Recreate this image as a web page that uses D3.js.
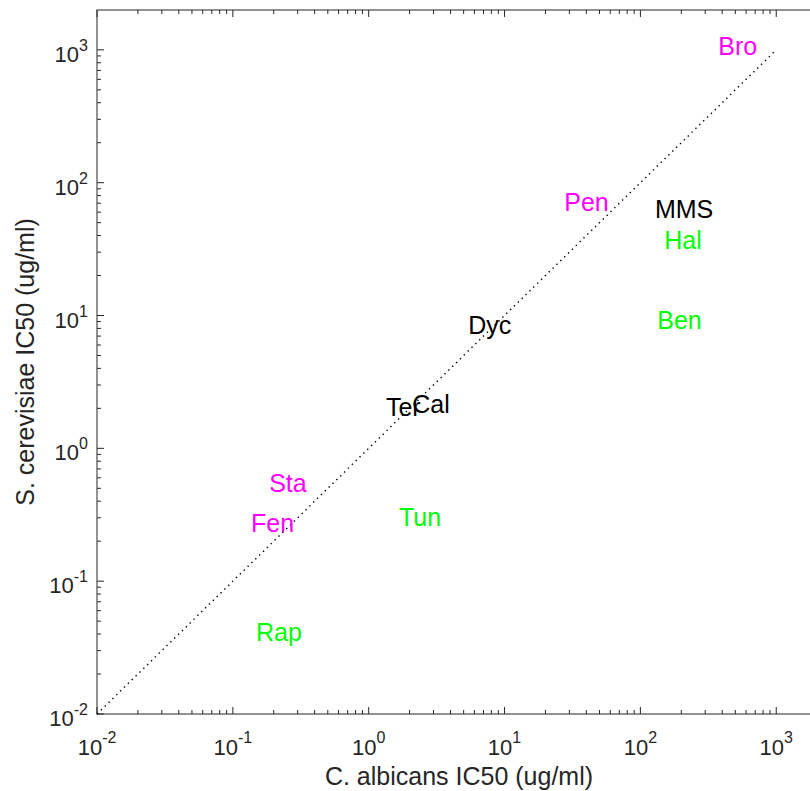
<!DOCTYPE html>
<html>
<head>
<meta charset="utf-8">
<script src="https://d3js.org/d3.v7.min.js"></script>
<style>
  body { margin: 0; background: white; }
  svg { font-family: 'Liberation Sans', Arial, Helvetica, sans-serif; }
</style>
</head>
<body>
<svg id="chart" width="810" height="791"></svg>
<script>
// compound names, IC50 in C. albicans (x) and S. cerevisiae (y), label colour
const names = ['Bro', 'Pen', 'MMS', 'Hal', 'Ben', 'Dyc', 'Ter', 'Cal', 'Sta', 'Fen', 'Tun', 'Rap'];
const albicans = [374, 27.5, 128, 150, 133, 5.4, 1.34, 2.09, 0.185, 0.136, 1.67, 0.148];
const cerevisiae = [1070, 71.6, 63.5, 37.1, 9.27, 8.5, 2.05, 2.16, 0.548, 0.274, 0.304, 0.0414];
const groups = ['magenta', 'magenta', 'black', 'green', 'green', 'black', 'black', 'black', 'magenta', 'magenta', 'green', 'green'];
const tickExps = [-2, -1, 0, 1, 2, 3];
const axisMax = Math.pow(10, 3.3);

const colorScale = d3.scaleOrdinal()
  .domain(['magenta', 'green', 'black'])
  .range(['#ff00ff', '#00ff00', '#000000']);

const svg = d3.select('#chart');
const mLeft = 97, mTop = 10, mRight = 817, mBottom = 714;

const x = d3.scaleLog().domain([0.01, axisMax]).range([mLeft, mRight]);
const y = d3.scaleLog().domain([0.01, axisMax]).range([mBottom, mTop]);

const axisColor = '#262626';

// minor + major ticks, drawn inward on all four sides (matlab box)
const majors = tickExps.map(e => Math.pow(10, e));
const minors = [];
tickExps.forEach(e => {
  for (let k = 2; k <= 9; k++) {
    const v = k * Math.pow(10, e);
    if (v <= axisMax) minors.push(v);
  }
});

const ticks = svg.append('g').attr('stroke', axisColor).attr('stroke-width', 1);
const tickLines = (vals, len) => {
  vals.forEach(v => {
    const px = x(v), py = y(v);
    ticks.append('line').attr('x1', px).attr('x2', px).attr('y1', mBottom).attr('y2', mBottom - len);
    ticks.append('line').attr('x1', px).attr('x2', px).attr('y1', mTop).attr('y2', mTop + len);
    ticks.append('line').attr('y1', py).attr('y2', py).attr('x1', mLeft).attr('x2', mLeft + len);
    ticks.append('line').attr('y1', py).attr('y2', py).attr('x1', mRight).attr('x2', mRight - len);
  });
};
tickLines(majors, 7);
tickLines(minors, 4);

svg.append('rect')
  .attr('x', mLeft).attr('y', mTop)
  .attr('width', mRight - mLeft).attr('height', mBottom - mTop)
  .attr('fill', 'none')
  .attr('stroke', axisColor)
  .attr('stroke-width', 1);

// tick labels as 10^n
const xLabels = svg.append('g').attr('fill', axisColor).attr('font-size', '22px');
tickExps.forEach(e => {
  const t = xLabels.append('text')
    .attr('x', x(Math.pow(10, e)))
    .attr('y', 755)
    .attr('text-anchor', 'middle');
  t.append('tspan').text('10');
  t.append('tspan').attr('dy', -12).attr('font-size', '16px').text(e);
});

const yLabels = svg.append('g').attr('fill', axisColor).attr('font-size', '22px');
tickExps.forEach(e => {
  const t = yLabels.append('text')
    .attr('x', 88)
    .attr('y', y(Math.pow(10, e)) + 12)
    .attr('text-anchor', 'end');
  t.append('tspan').text('10');
  t.append('tspan').attr('dy', -11).attr('font-size', '16px').text(e);
});

// axis titles
svg.append('text')
  .attr('x', 459)
  .attr('y', 785)
  .attr('text-anchor', 'middle')
  .attr('font-size', '25px')
  .attr('fill', axisColor)
  .text('C. albicans IC50 (ug/ml)');

svg.append('text')
  .attr('transform', `translate(34, ${(mTop + mBottom) / 2}) rotate(-90)`)
  .attr('text-anchor', 'middle')
  .attr('font-size', '25px')
  .attr('fill', axisColor)
  .text('S. cerevisiae IC50 (ug/ml)');

// y = x reference line
svg.append('line')
  .attr('x1', x(0.01)).attr('y1', y(0.01))
  .attr('x2', x(1000)).attr('y2', y(1000))
  .attr('stroke', '#000')
  .attr('stroke-width', 1.4)
  .attr('stroke-dasharray', '1.4,4');

// compound labels
svg.append('g').selectAll('text')
  .data(names)
  .join('text')
  .attr('x', (d, i) => x(albicans[i]))
  .attr('y', (d, i) => y(cerevisiae[i]))
  .attr('dy', '0.35em')
  .attr('font-size', '25px')
  .attr('fill', (d, i) => colorScale(groups[i]))
  .text(d => d);
</script>
</body>
</html>
